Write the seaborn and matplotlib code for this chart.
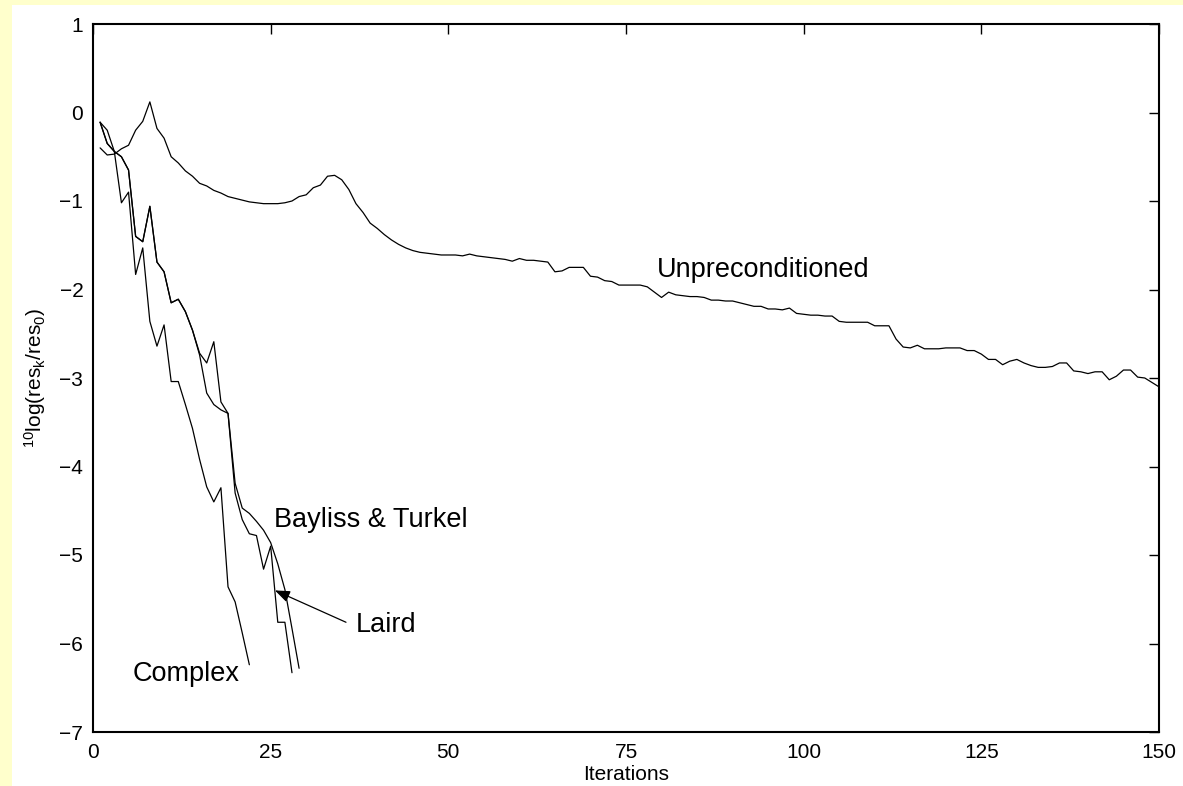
import numpy as np
import pandas as pd
import matplotlib
matplotlib.use("Agg")
import matplotlib.pyplot as plt
import seaborn as sns
from matplotlib import font_manager

# ---------------- data ----------------
unprec_vals = [
    -0.40, -0.48, -0.47, -0.41, -0.37, -0.20, -0.10, 0.12, -0.18, -0.29,
    -0.50, -0.57, -0.66, -0.72, -0.80, -0.83, -0.88, -0.91, -0.95, -0.97,
    -0.99, -1.01, -1.02, -1.03, -1.03, -1.03, -1.02, -1.00, -0.95, -0.93,
    -0.85, -0.82, -0.72, -0.71, -0.76, -0.87, -1.03, -1.13, -1.25, -1.31,
    -1.38, -1.44, -1.49, -1.53, -1.56, -1.58, -1.59, -1.60, -1.61, -1.61,
    -1.61, -1.62, -1.60, -1.62, -1.63, -1.64, -1.65, -1.66, -1.68, -1.65,
    -1.67, -1.67, -1.68, -1.69, -1.80, -1.79, -1.75, -1.75, -1.75, -1.85,
    -1.86, -1.90, -1.91, -1.95, -1.95, -1.95, -1.95, -1.97, -2.03, -2.09,
    -2.03, -2.06, -2.07, -2.08, -2.08, -2.09, -2.12, -2.12, -2.13, -2.13,
    -2.15, -2.17, -2.19, -2.19, -2.22, -2.22, -2.23, -2.21, -2.27, -2.28,
    -2.29, -2.29, -2.30, -2.30, -2.36, -2.37, -2.37, -2.37, -2.37, -2.41,
    -2.41, -2.41, -2.56, -2.65, -2.66, -2.63, -2.67, -2.67, -2.67, -2.66,
    -2.66, -2.66, -2.69, -2.69, -2.73, -2.79, -2.79, -2.85, -2.81, -2.79,
    -2.83, -2.86, -2.88, -2.88, -2.87, -2.83, -2.83, -2.92, -2.93, -2.95,
    -2.93, -2.93, -3.02, -2.98, -2.91, -2.91, -2.99, -3.00, -3.05, -3.10,
]
unprec_iter = list(range(1, 151))

complex_vals = [
    -0.11, -0.20, -0.44, -1.02, -0.90, -1.83, -1.53, -2.36, -2.64, -2.40,
    -3.04, -3.04, -3.30, -3.57, -3.92, -4.23, -4.40, -4.24, -5.36, -5.53,
    -5.88, -6.24,
]
complex_iter = list(range(1, 23))

bayliss_vals = [
    -0.11, -0.35, -0.44, -0.50, -0.65, -1.40, -1.46, -1.06, -1.69, -1.80,
    -2.15, -2.11, -2.25, -2.46, -2.74, -3.17, -3.30, -3.36, -3.40, -4.19,
    -4.47, -4.53, -4.62, -4.72, -4.86, -5.10, -5.39, -5.83, -6.28,
]
bayliss_iter = list(range(1, 30))

laird_vals = [
    -0.11, -0.35, -0.44, -0.50, -0.65, -1.40, -1.46, -1.06, -1.69, -1.80,
    -2.15, -2.11, -2.25, -2.46, -2.72, -2.83, -2.59, -3.27, -3.40, -4.30,
    -4.60, -4.76, -4.78, -5.16, -4.90, -5.76, -5.76, -6.33,
]
laird_iter = list(range(1, 29))

x_ticks = [0, 25, 50, 75, 100, 125, 150]
y_ticks = [-7, -6, -5, -4, -3, -2, -1, 0, 1]

# ---------------- build long table ----------------
frames = []
for name, it, v in [("Unpreconditioned", unprec_iter, unprec_vals),
                    ("Complex", complex_iter, complex_vals),
                    ("Bayliss & Turkel", bayliss_iter, bayliss_vals),
                    ("Laird", laird_iter, laird_vals)]:
    frames.append(pd.DataFrame({"Iterations": it, "value": v, "method": name}))
df = pd.concat(frames, ignore_index=True)

# ---------------- style ----------------
sns.set_style("white")
avail = {f.name for f in font_manager.fontManager.ttflist}
main_font = "Liberation Sans" if "Liberation Sans" in avail else "DejaVu Sans"
plt.rcParams["font.family"] = [main_font, "DejaVu Sans"]
plt.rcParams["mathtext.fontset"] = "custom"
plt.rcParams["mathtext.rm"] = main_font
plt.rcParams["mathtext.it"] = main_font
for key in ["text.color", "axes.labelcolor", "xtick.color", "ytick.color",
            "axes.edgecolor"]:
    plt.rcParams[key] = "black"

YELLOW = "#FFFFCC"
fig = plt.figure(figsize=(11.83, 7.86), dpi=100, facecolor=YELLOW)
# white page area (behind everything)
fig.patches.append(plt.Rectangle((12 / 1183, 0), 1 - 12 / 1183, 1 - 5 / 786,
                                 transform=fig.transFigure, facecolor="white",
                                 edgecolor="none", zorder=-10))
ax = fig.add_axes([93 / 1183, 1 - 732 / 786, (1159 - 93) / 1183, (732 - 24) / 786])
ax.set_zorder(1)
ax.set_facecolor("white")

sns.lineplot(data=df, x="Iterations", y="value", units="method", estimator=None,
             color="black", linewidth=0.9, sort=False, ax=ax, legend=False)

ax.set_xlim(0, 150)
ax.set_ylim(-7, 1)
ax.set_xticks(x_ticks)
ax.set_yticks(y_ticks)
ax.set_yticklabels([("\u2212%d" % -t) if t < 0 else str(t) for t in y_ticks])
ax.tick_params(axis="both", direction="in", length=7, width=1.0, color="black",
               top=True, right=True, labelsize=15, labelcolor="black")
ax.tick_params(axis="x", pad=8)
ax.tick_params(axis="y", pad=7)
for s in ax.spines.values():
    s.set_visible(True)
    s.set_color("black")
    s.set_linewidth(1.5)

ax.set_xlabel("Iterations", fontsize=15, labelpad=2, color="black")
ax.set_ylabel(r"$^{10}$log(res$_k$/res$_0$)", fontsize=15, labelpad=8, color="black")

# curve labels
fs = 19.5
ax.text(79.3, -1.78, "Unpreconditioned", fontsize=fs, va="center", ha="left", color="black")
ax.text(25.5, -4.61, "Bayliss & Turkel", fontsize=fs, va="center", ha="left", color="black")
ax.text(37.0, -5.79, "Laird", fontsize=fs, va="center", ha="left", color="black")
ax.text(5.6, -6.35, "Complex", fontsize=fs, va="center", ha="left", color="black")
ax.annotate("", xy=(25.6, -5.40), xytext=(35.6, -5.76),
            arrowprops=dict(arrowstyle="-|>,head_length=0.9,head_width=0.35",
                            color="black", lw=0.9, shrinkA=0, shrinkB=0))

fig.savefig("out.png", dpi=100, facecolor=YELLOW)
